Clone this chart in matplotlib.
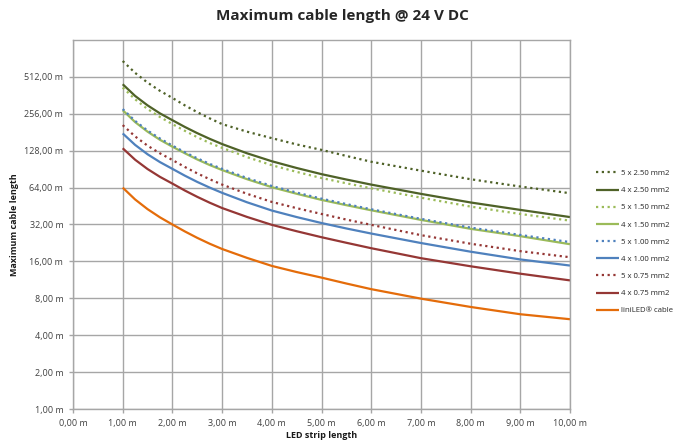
import matplotlib
matplotlib.use("Agg")
import matplotlib.pyplot as plt
from matplotlib.ticker import FixedLocator, FixedFormatter

# Data
strip_length = [1.0, 1.25, 1.5, 1.75, 2.0, 2.25, 2.5, 2.75, 3.0, 3.5, 4.0, 4.5,
                5.0, 5.5, 6.0, 7.0, 8.0, 9.0, 10.0]

s5x250 = [690, 552, 460, 394, 345, 300, 264, 235, 211, 183, 162, 144,
          130, 116, 104, 88, 74.9, 65.3, 57.6]
s4x250 = [446, 358, 300, 258, 227, 200, 178, 160, 145, 122, 105, 92.5,
          82.4, 74.5, 67.7, 56.9, 48.4, 42.1, 36.8]
s5x150 = [419, 336, 280, 241, 211, 186, 165, 148, 135, 113.5, 97.5, 86,
          76.6, 69.4, 63.2, 53, 44.8, 39, 34.4]
s4x150 = [274, 219, 183, 157, 138, 122, 108.6, 97.8, 89, 75, 64.5, 57,
          50.8, 46, 41.8, 34.9, 29.5, 25.7, 22.1]
s5x100 = [280, 224, 187, 161, 141, 124.5, 111, 100, 91, 76.7, 66, 58.3,
          52, 47, 42.6, 35.6, 30.2, 26.3, 23.0]
s4x100 = [177, 142.7, 119.7, 103.3, 91, 80.1, 71.2, 64, 58, 48.6, 41.6, 36.8,
          32.9, 29.7, 27, 22.6, 19.2, 16.6, 14.8]
s5x075 = [207, 167.3, 140.7, 121.8, 107.5, 94.3, 83.6, 74.9, 67.7, 57, 48.9, 43.5,
          39, 35.1, 31.8, 26.2, 22.3, 19.4, 17.3]
s4x075 = [134, 108, 90.7, 78.3, 69, 60.6, 53.8, 48.2, 43.6, 36.9, 31.8, 28.2,
          25.2, 22.7, 20.5, 17.0, 14.6, 12.7, 11.2]
lini = [64, 51.2, 42.7, 36.6, 32, 28.1, 24.9, 22.3, 20.2, 17.1, 14.7, 13.1,
        11.8, 10.56, 9.5, 7.95, 6.8, 5.93, 5.4]

series_names = ["5 x 2.50 mm2", "4 x 2.50 mm2", "5 x 1.50 mm2", "4 x 1.50 mm2",
                "5 x 1.00 mm2", "4 x 1.00 mm2", "5 x 0.75 mm2", "4 x 0.75 mm2",
                "liniLED\u00ae cable"]
series_values = [s5x250, s4x250, s5x150, s4x150, s5x100, s4x100, s5x075, s4x075, lini]

y_ticks = [1, 2, 4, 8, 16, 32, 64, 128, 256, 512]
y_tick_labels = ["1,00 m", "2,00 m", "4,00 m", "8,00 m", "16,00 m", "32,00 m",
                 "64,00 m", "128,00 m", "256,00 m", "512,00 m"]
x_ticks = [0, 1, 2, 3, 4, 5, 6, 7, 8, 9, 10]
x_tick_labels = ["0,00 m", "1,00 m", "2,00 m", "3,00 m", "4,00 m", "5,00 m",
                 "6,00 m", "7,00 m", "8,00 m", "9,00 m", "10,00 m"]

colors = ["#4F6228", "#4F6228", "#9BBB59", "#9BBB59", "#4F81BD", "#4F81BD",
          "#953735", "#953735", "#E46C0A"]
dotted = (0, (1, 1.6))
styles = [dotted, "-", dotted, "-", dotted, "-", dotted, "-", "-"]

plt.rcParams['font.family'] = ['Open Sans', 'DejaVu Sans']

fig = plt.figure(figsize=(6.81, 4.41), dpi=100)
ax = fig.add_axes([73/681, 1 - 409/441, (570 - 73)/681, (409 - 40)/441])

for name, vals, c, ls in zip(series_names, series_values, colors, styles):
    ax.plot(strip_length, vals, color=c, linestyle=ls, linewidth=1.6,
            label=name, solid_capstyle='butt', solid_joinstyle='round')

ax.set_yscale('log', base=2)
ax.set_ylim(1, 1024)
ax.set_xlim(0, 10)
ax.yaxis.set_major_locator(FixedLocator(y_ticks))
ax.yaxis.set_major_formatter(FixedFormatter(y_tick_labels))
ax.yaxis.set_minor_locator(FixedLocator([]))
ax.set_xticks(x_ticks)
ax.set_xticklabels(x_tick_labels)

ax.grid(True, color="#A6A6A6", linewidth=1.0)
ax.set_axisbelow(True)
for side in ["left", "bottom", "top", "right"]:
    ax.spines[side].set_color("#A6A6A6")
    ax.spines[side].set_linewidth(1.0)

ax.tick_params(axis='both', which='major', labelsize=6.5, colors="#A6A6A6",
               labelcolor="#404040", length=3, width=1.0, direction='out')
ax.tick_params(axis='x', pad=4)
ax.tick_params(axis='y', pad=4)

ax.set_xlabel("LED strip length", fontsize=6.5, fontweight='bold', color="#1a1a1a", labelpad=2)
ax.set_ylabel("Maximum cable length", fontsize=6.5, fontweight='bold', color="#1a1a1a", labelpad=4)

fig.text(0.503, 1 - 16/441, "Maximum cable length @ 24 V DC", ha='center', va='center',
         fontsize=11, fontweight='bold', color="#262626")

leg = ax.legend(loc='center left', bbox_to_anchor=(596/681, 1 - 242/441),
                bbox_transform=fig.transFigure, frameon=False, fontsize=5.6,
                handlelength=3.0, handletextpad=0.25, labelspacing=1.25,
                borderaxespad=0, borderpad=0)
for t in leg.get_texts():
    t.set_color("#262626")

fig.savefig("out.png", dpi=100)
